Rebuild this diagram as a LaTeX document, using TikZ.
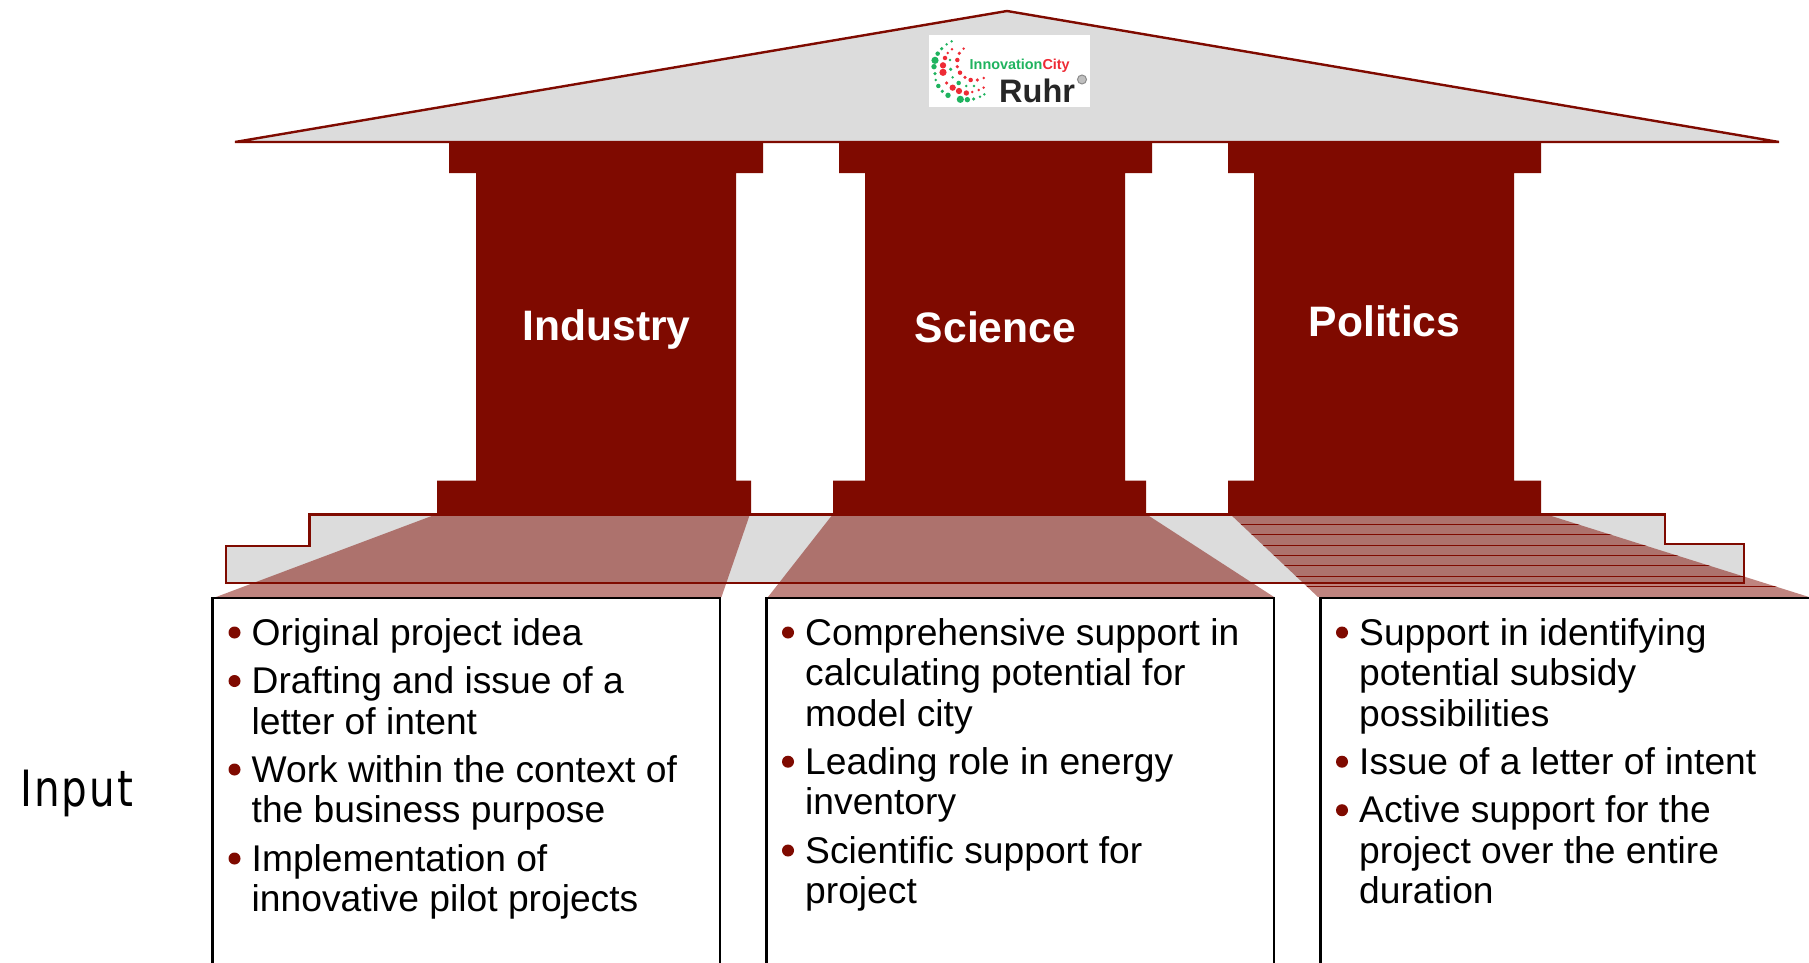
\documentclass[tikz,border=0pt]{standalone}
\usepackage{fontspec}
\setmainfont{Liberation Sans}
\newfontfamily\inputfont[LetterSpace=5]{DejaVu Sans}
\definecolor{pillar}{HTML}{7F0A00}
\definecolor{stone}{HTML}{DCDCDC}
\definecolor{logogreen}{HTML}{1FB35F}
\definecolor{logored}{HTML}{EE2B35}
\tikzset{
  pillarshape/.style={fill=pillar,draw=none},
  plinthline/.style={draw=pillar,line width=2.4pt,line join=miter},
  shade/.style={fill=pillar,fill opacity=0.5,draw=none},
  textbox/.style={draw=black,line width=2.4pt,fill=white},
  item/.style={anchor=north west,inner sep=0pt,text width=440pt,align=flush left,text=black,
    font=\fontsize{37.2}{40.4}\selectfont,execute at begin node=\strut},
  bullet/.style={circle,fill=pillar,inner sep=0pt,minimum size=12pt,draw=none},
  pillarlabel/.style={text=white,inner sep=0pt,font=\fontsize{42.6}{46}\selectfont\bfseries},
  hatchline/.style={draw=pillar,line width=0.8pt},
}
\newcommand{\dotlist}[2]{\foreach \dx/\dy/\dr in {#2}{\fill[#1] (\dx/3,\dy/3) circle[radius=\dr*1.35/3];}}
\begin{document}
\begin{tikzpicture}[x=1pt,y=-1pt]
\useasboundingbox (0,0) rectangle (1809,963);
\clip (0,0) rectangle (1809,963);
% plinth
\fill[stone] (226,583) -- (226,546) -- (309.5,546) -- (309.5,514) -- (1665,514) -- (1665,544) -- (1744,544) -- (1744,583) -- cycle;
% boxes
\draw[textbox] (212.5,598) rectangle (720,1000);
\draw[textbox] (766.5,598) rectangle (1274,1000);
\draw[textbox] (1320.5,598) rectangle (1900,1000);
% shades
\fill[shade] (437,514) -- (750,514) -- (721.5,597) -- (216,597) -- cycle;
\fill[shade] (833,514) -- (1146,514) -- (1274,597) -- (768,597) -- cycle;
\begin{scope}
\clip (1230,514) -- (1545,514) -- (1809,597) -- (1318,597) -- cycle;
\fill[shade] (1200,510) rectangle (1809,597);
\foreach \ly in {524,534.3,545,555.3,565.3,576,586.3}
  \draw[hatchline] (1200,\ly) -- (1809,\ly);
\end{scope}
\draw[plinthline] (226,583) -- (226,546) -- (309.5,546) -- (309.5,514.5) -- (1665,514.5) -- (1665,544) -- (1744,544) -- (1744,583) -- cycle;
% roof
\fill[stone,draw=pillar,line width=2.4pt] (235,142) -- (1007,11) -- (1779,142) -- cycle;
% pillars
\fill[pillarshape] (449,142) -- (763,142) -- (763,173) -- (736,173) -- (736,480.5) -- (751,480.5) -- (751,515) -- (437,515) -- (437,480.5) -- (476,480.5) -- (476,173) -- (449,173) -- cycle;
\fill[pillarshape] (839,142) -- (1152,142) -- (1152,173) -- (1125,173) -- (1125,480.5) -- (1146,480.5) -- (1146,515) -- (833,515) -- (833,480.5) -- (865,480.5) -- (865,173) -- (839,173) -- cycle;
\fill[pillarshape] (1228,142) -- (1541,142) -- (1541,173) -- (1514,173) -- (1514,480.5) -- (1541,480.5) -- (1541,515) -- (1228,515) -- (1228,480.5) -- (1254,480.5) -- (1254,173) -- (1228,173) -- cycle;
\node[pillarlabel] (industry) at (606.5,329.5) {Industry};
\node[pillarlabel] (science) at (995.5,327) {Science};
\node[pillarlabel] (politics) at (1384.5,321) {Politics};
% logo
\fill[white] (929,35) rectangle (1090,107);
\begin{scope}[shift={(880,0)}]
\dotlist{logogreen}{215/124/3,200/133/3,185/146/4,173/161/5,165/181/8,162/200/6,165/221/4,167/240/3,175/258/5,187/274/4,204/286/6,241/298/8,262/299/6,281/297/4,300/290/3,313/283/3,210/180/3,212/208/4,218/232/3,236/249/5,259/258/3,282/258/3}
\dotlist{logored}{251/146/3,238/160/4,216/148/3,203/159/3,195/174/5,189/196/7,189/217/8,200/249/4,218/263/7,237/273/7,259/279/6,277/276/3,296/270/3,311/263/3,232/180/5,232/200/4,240/218/5,255/232/4,272/240/5,292/240/4,311/234/3}
\end{scope}
\node[anchor=base west,inner sep=0pt,font=\fontsize{14.4}{16}\selectfont\bfseries,text=logogreen] (logotop) at (969.5,70) {Innovation\textcolor{logored}{City}};
\node[anchor=base west,inner sep=0pt,font=\fontsize{32.5}{36}\selectfont\bfseries,text=black!85] (logoruhr) at (999,103) {Ruhr};
\node[circle,draw=black!45,fill=black!25,line width=1pt,inner sep=0pt,minimum size=9pt] (logomark) at (1082,79.5) {};
% texts
\node[anchor=base west,inner sep=0pt,font=\fontsize{50}{50}\selectfont\inputfont] (input) at (20,806) {\scalebox{0.81}[1]{Input}};
% column 1
\foreach \nm/\ty/\txt in {a/0/Original project idea,b/48.5/Drafting and issue of a\\letter of intent,c/137/Work within the context of\\the business purpose,d/226/Implementation of\\innovative pilot projects}{
  \node[bullet] (bul\nm) at (234.5,632.5+\ty) {};
  \node[item] (item\nm) at (251.5,645.1-28.3+\ty) {\txt};
}
% column 2
\foreach \nm/\ty/\txt in {e/0/Comprehensive support in\\calculating potential for\\model city,f/129.2/Leading role in energy\\inventory,g/218/Scientific support for\\project}{
  \node[bullet] (bul\nm) at (788,632.5+\ty) {};
  \node[item] (item\nm) at (805,645.1-28.3+\ty) {\txt};
}
% column 3
\foreach \nm/\ty/\txt in {h/0/Support in identifying\\potential subsidy\\possibilities,i/129.2/Issue of a letter of intent,j/177.7/Active support for the\\project over the entire\\duration}{
  \node[bullet] (bul\nm) at (1342,632.5+\ty) {};
  \node[item] (item\nm) at (1359,645.1-28.3+\ty) {\txt};
}
\end{tikzpicture}
\end{document}
